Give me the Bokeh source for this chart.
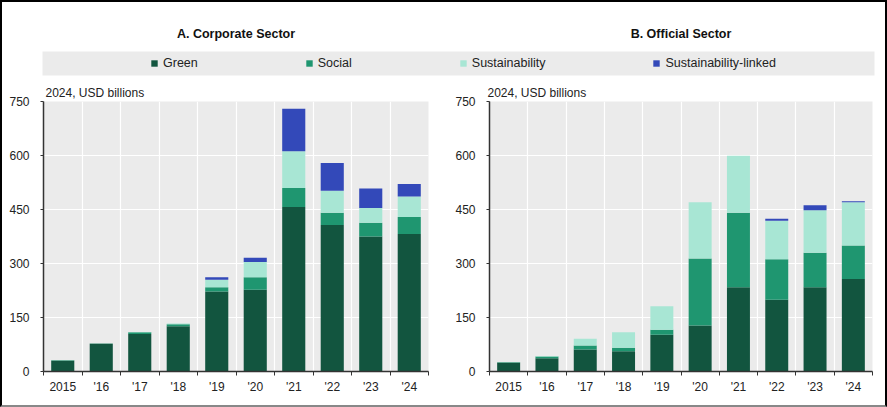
from bokeh.plotting import figure
from bokeh.layouts import column, row
from bokeh.models import (ColumnDataSource, Range1d, FixedTicker, Legend, LegendItem, Label)
from bokeh.embed import file_html
from bokeh.resources import INLINE

years = ["2015", "'16", "'17", "'18", "'19", "'20", "'21", "'22", "'23", "'24"]
series = ["Green", "Social", "Sustainability", "Sustainability-linked"]

corp_green = [30, 77, 104, 126, 222, 227, 457, 407, 375, 382]
corp_social = [1, 1, 5, 5, 12, 35, 53, 34, 38, 47]
corp_sust = [0, 0, 1, 2, 21, 42, 102, 61, 41, 57]
corp_slb = [0, 0, 0, 0, 7, 12, 118, 77, 54, 35]

off_green = [24, 37, 61, 56, 102, 128, 234, 199, 234, 257]
off_social = [2, 5, 11, 10, 14, 186, 207, 113, 96, 93]
off_sust = [0, 1, 19, 43, 65, 156, 158, 107, 118, 120]
off_slb = [0, 0, 0, 0, 0, 0, 0, 5, 14, 3]

y_ticks = [0, 150, 300, 450, 600, 750]
panel_titles = ["A. Corporate Sector", "B. Official Sector"]
unit_label = "2024, USD billions"

colors = ["#12553F", "#1F9670", "#A8E6D4", "#3349B9"]
FONT = "Liberation Sans"
BG = "#EBEBEB"


def panel(green, social, sust, slb, width, left, offset):
    p = figure(width=width, height=327, output_backend="svg", toolbar_location=None,
               x_range=Range1d(-0.5, len(years) - 0.5), y_range=Range1d(0, 750),
               min_border_left=left, min_border_right=15, min_border_top=21,
               min_border_bottom=36, title=unit_label)
    p.title.text_font = FONT
    p.title.text_font_size = "12px"
    p.title.text_font_style = "normal"
    p.title.text_color = "#222222"
    p.title.align = "left"
    p.title.offset = offset
    p.title.standoff = 4
    p.background_fill_color = BG
    p.border_fill_color = "white"
    p.outline_line_color = None
    src = ColumnDataSource(dict(x=list(range(len(years))), Green=green, Social=social,
                                Sustainability=sust, SLB=slb))
    p.vbar_stack(["Green", "Social", "Sustainability", "SLB"], x="x", width=0.6,
                 color=colors, line_color=None, source=src)
    # x axis
    p.xaxis.ticker = FixedTicker(ticks=list(range(len(years))),
                                 minor_ticks=[i - 0.5 for i in range(len(years) + 1)])
    p.xaxis.major_label_overrides = {i: y for i, y in enumerate(years)}
    p.xaxis.major_tick_out = 0
    p.xaxis.major_tick_in = 0
    p.xaxis.minor_tick_out = 4
    p.xaxis.minor_tick_in = 0
    p.xaxis.minor_tick_line_color = "#333333"
    p.xaxis.axis_line_color = "#333333"
    p.xaxis.axis_line_width = 1.5
    p.xaxis.major_label_standoff = 4
    # y axis
    p.yaxis.ticker = FixedTicker(ticks=y_ticks)
    p.yaxis.major_tick_out = 3
    p.yaxis.major_tick_in = 0
    p.yaxis.minor_tick_line_color = None
    p.yaxis.major_tick_line_color = "#333333"
    p.yaxis.axis_line_color = "#333333"
    p.yaxis.axis_line_width = 1.5
    p.yaxis.major_label_standoff = 11
    for ax in (p.xaxis, p.yaxis):
        ax.major_label_text_font = FONT
        ax.major_label_text_font_size = "12px"
        ax.major_label_text_color = "#222222"
    p.xgrid.ticker = FixedTicker(ticks=[i + 0.5 for i in range(len(years) - 1)])
    p.ygrid.ticker = FixedTicker(ticks=y_ticks[1:-1])
    for g in (p.xgrid, p.ygrid):
        g.grid_line_color = "white"
        g.grid_line_width = 1.2
    return p


left = panel(corp_green, corp_social, corp_sust, corp_slb, 443, 43, 2)
right = panel(off_green, off_social, off_sust, off_slb, 444, 46, -2)

# header with panel titles and the shared legend
hdr = figure(width=887, height=80, output_backend="svg", toolbar_location=None,
             x_range=Range1d(0, 887), y_range=Range1d(80, 0),
             min_border=0, x_axis_type=None, y_axis_type=None)
hdr.outline_line_color = None
hdr.grid.visible = False
hdr.quad(left=42, right=874, top=51, bottom=75, color=BG, line_color=None)
for txt, cx in zip(panel_titles, [235.5, 680.5]):
    hdr.add_layout(Label(x=cx, y=33, text=txt, text_align="center", text_baseline="middle",
                         text_font=FONT, text_font_size="12.5px", text_font_style="bold",
                         text_color="#111111"))
items = []
for name, c in zip(series, colors):
    # legend-only renderer, placed outside the visible range
    r = hdr.vbar(x=[-100], top=[1], bottom=[0], width=1, color=c, line_color=None)
    items.append(LegendItem(label=name, renderers=[r]))
leg = Legend(items=items, orientation="horizontal", location=(150, 10), spacing=107,
             padding=0, margin=0, glyph_width=8, glyph_height=8, label_standoff=5,
             label_height=14, label_text_font=FONT, label_text_font_size="12.5px",
             label_text_color="#222222", background_fill_alpha=0, border_line_color=None)
hdr.add_layout(leg)

layout = column(hdr, row(left, right, spacing=0), spacing=0)
html = file_html(layout, INLINE)
style = ("<style>html,body{margin:0;padding:0;}"
         "body::after{content:'';position:fixed;left:0;top:0;width:887px;height:407px;"
         "box-sizing:border-box;border:2px solid #000;border-bottom-color:#888;"
         "pointer-events:none;}</style>")
html = html.replace("<head>", "<head>" + style, 1)
open("out.html", "w").write(html)
